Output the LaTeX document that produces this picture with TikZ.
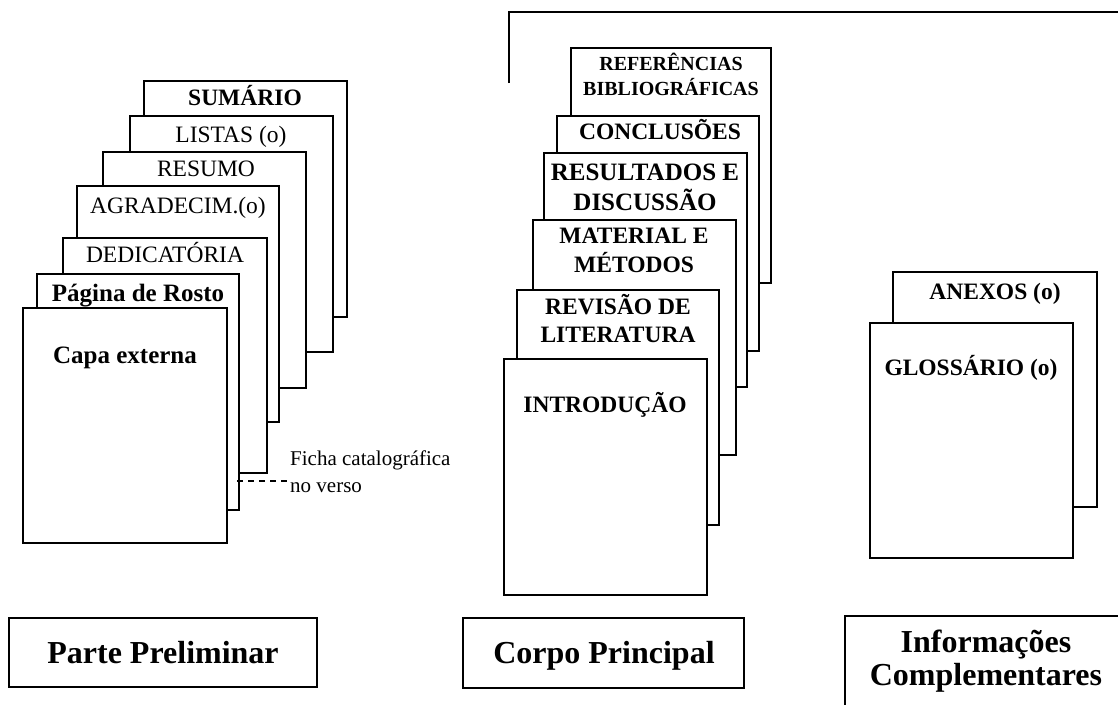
\documentclass[tikz,border=0pt]{standalone}
\usepackage{fontspec}
\setmainfont{Liberation Serif}
\begin{document}
\begin{tikzpicture}[x=1pt,y=-1pt,
  page/.style={draw=black, fill=white, line width=1.6pt},
  txt/.style={inner sep=0pt, anchor=base},
  reg/.style={txt, font=\fontsize{23.5}{28}\selectfont},
  bld/.style={txt, font=\fontsize{23.5}{28}\selectfont\bfseries},
  bldl/.style={txt, font=\fontsize{25}{30}\selectfont\bfseries},
  blds/.style={txt, font=\fontsize{20}{24}\selectfont\bfseries},
  bldxl/.style={txt, font=\fontsize{32}{38}\selectfont\bfseries},
  note/.style={inner sep=0pt, anchor=base west, font=\fontsize{21}{25}\selectfont},
  link/.style={line width=1.2pt, dash pattern=on 6pt off 5pt},
  frame/.style={draw=black, line width=1.6pt}]
\useasboundingbox (0,0) rectangle (1118,704);
\clip (0,0) rectangle (1118,704);
\fill[white] (0,0) rectangle (1118,704);

% ---------- Parte preliminar ----------
\draw[page] (144,81) rectangle (347,317);
\node[bld] (sum) at (245,105) {SUMÁRIO};
\draw[page] (130,116) rectangle (333,352);
\node[reg] (lis) at (231,142) {LISTAS (o)};
\draw[page] (103,152) rectangle (306,388);
\node[reg] (res) at (206,176) {RESUMO};
\draw[page] (77,186) rectangle (279,422);
\node[reg] (agr) at (178,213) {AGRADECIM.(o)};
\draw[page] (63,238) rectangle (267,473);
\node[reg] (ded) at (165,262) {DEDICATÓRIA};
\draw[page] (37,274) rectangle (239,510);
\node[bldl] (ros) at (138,301) {Página de Rosto};
\draw[page] (23,308) rectangle (227,543);
\node[bldl] (capa) at (125,363) {Capa externa};

\node[note] (ficha1) at (290,465) {Ficha catalográfica};
\node[note] (ficha2) at (290,492) {no verso};
\coordinate (fv) at (237,481);
\draw[link] (fv) -- (ficha2.west |- fv);

% ---------- Corpo principal ----------
\coordinate (b1) at (509,83);
\coordinate (b2) at (509,12);
\coordinate (b3) at (1130,12);
\draw[line width=1.6pt] (b1) -- (b2) -- (b3);

\draw[page] (571,48) rectangle (771,283);
\node[blds] (ref1) at (671,70) {REFERÊNCIAS};
\node[blds] (ref2) at (671,95) {BIBLIOGRÁFICAS};
\draw[page] (557,116) rectangle (759,351);
\node[bld] (con) at (660,139) {CONCLUSÕES};
\draw[page] (544,153) rectangle (747,387);
\node[bldl] (rd1) at (645,180) {RESULTADOS E};
\node[bldl] (rd2) at (645,210) {DISCUSSÃO};
\draw[page] (533,220) rectangle (736,455);
\node[bld] (mm1) at (634,243) {MATERIAL E};
\node[bld] (mm2) at (634,272) {MÉTODOS};
\draw[page] (517,290) rectangle (719,525);
\node[bld] (rl1) at (618,314) {REVISÃO DE};
\node[bld] (rl2) at (618,342) {LITERATURA};
\draw[page] (504,359) rectangle (707,595);
\node[bld] (int) at (605,412) {INTRODUÇÃO};

% ---------- Informações complementares ----------
\draw[page] (893,272) rectangle (1097,507);
\node[bld] (anx) at (995,299) {ANEXOS (o)};
\draw[page] (870,323) rectangle (1073,558);
\node[bld] (glo) at (971,375) {GLOSSÁRIO (o)};

% ---------- Legend boxes ----------
\draw[page] (9,618) rectangle (317,687);
\node[bldxl] (pp) at (163,663) {Parte Preliminar};
\draw[page] (463,618) rectangle (744,688);
\node[bldxl] (cp) at (604,663) {Corpo Principal};
\draw[page] (845,616) rectangle (1130,720);
\node[bldxl] (ic1) at (986,652) {Informações};
\node[bldxl] (ic2) at (986,685) {Complementares};
\end{tikzpicture}
\end{document}
